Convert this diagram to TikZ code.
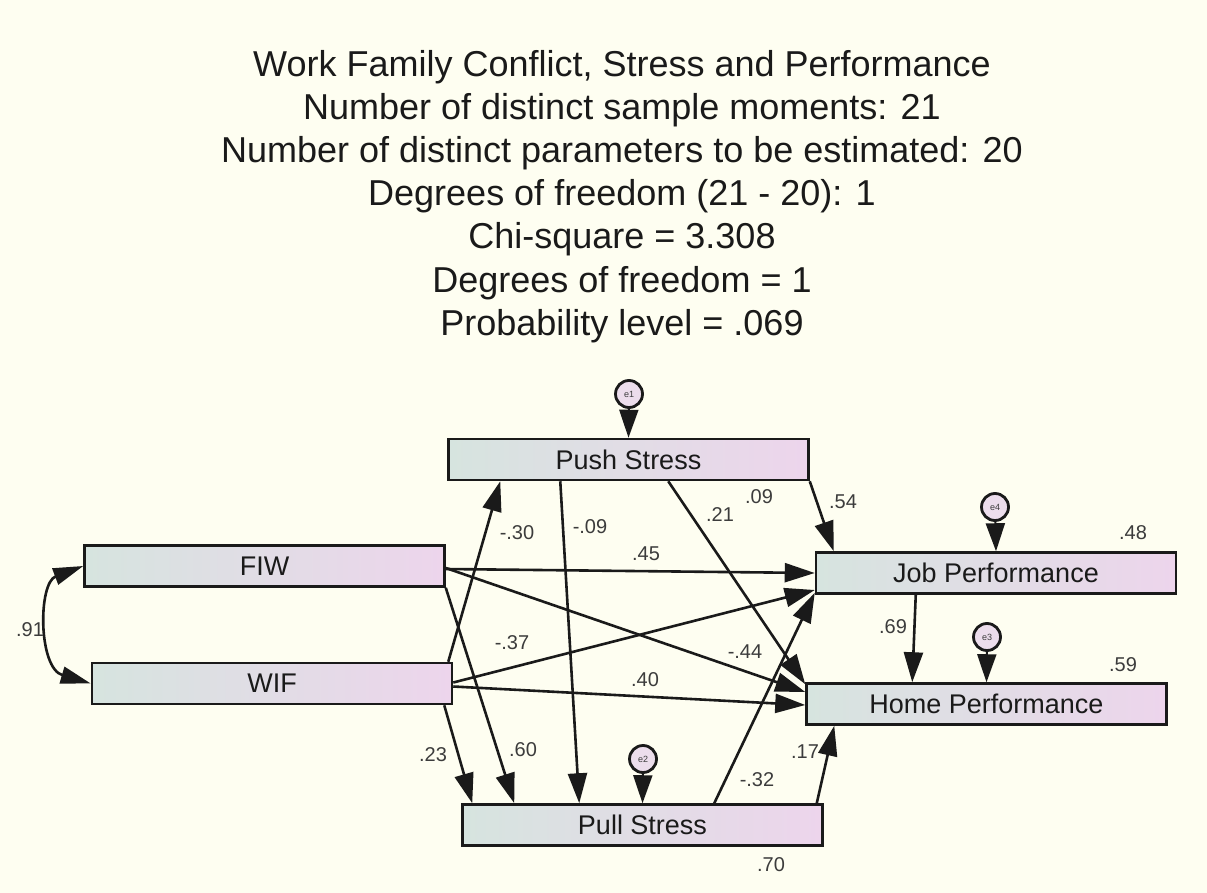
\documentclass[tikz,border=0pt]{standalone}
\usepackage{fontspec}
\setmainfont{Liberation Sans}
\usetikzlibrary{arrows.meta,calc}
\definecolor{bg}{HTML}{FEFEF1}
\definecolor{boxL}{HTML}{D6E4DF}
\definecolor{boxR}{HTML}{EDD5EC}
\definecolor{errfill}{HTML}{ECDDEC}
\definecolor{ink}{HTML}{1A1A1A}
\definecolor{coef}{HTML}{3C3C3C}
\begin{document}
\begin{tikzpicture}[x=1pt,y=-1pt,
  var/.style={draw=ink, line width=2.5pt, left color=boxL, right color=boxR,
    minimum height=41pt, minimum width=360pt, inner sep=0pt,
    font=\fontsize{27}{30}\selectfont, text=ink},
  err/.style={circle, draw=ink, line width=2.8pt, fill=errfill, minimum size=27pt,
    inner sep=0pt, font=\fontsize{9}{10}\selectfont, text=coef},
  regline/.style={draw=ink, line width=2.6pt, -{Triangle[length=30pt,width=19pt]}},
  errline/.style={draw=ink, line width=2pt, -{Triangle[length=28pt,width=19pt]}},
  covline/.style={draw=ink, line width=2.6pt,
    {Triangle[length=30pt,width=17pt]}-{Triangle[length=30pt,width=17pt]}},
  est/.style={font=\fontsize{20}{22}\selectfont, text=coef, inner sep=0pt},
  titleline/.style={font=\fontsize{36}{43}\selectfont, text=ink, anchor=base, inner sep=0pt}]

% canvas
\fill[bg] (0,0) rectangle (1207,893);
\useasboundingbox (0,0) rectangle (1207,893);

% heading with model fit summary
\foreach \txt [count=\i] in {Work Family Conflict{,} Stress and Performance,
  Number of distinct sample moments: 21,
  Number of distinct parameters to be estimated: 20,
  Degrees of freedom (21 - 20): 1,
  Chi-square = 3.308,
  Degrees of freedom = 1,
  Probability level = .069}
  \node[titleline] (t\i) at (622, 34+43*\i) {\txt};

% observed variables
\node[var] (Push) at (628.5,459.5) {Push Stress};
\node[var] (FIW)  at (264.5,566)   {FIW};
\node[var] (WIF)  at (272,683.5)   {WIF};
\node[var] (Job)  at (996,573)     {Job Performance};
\node[var] (Home) at (986.5,704)   {Home Performance};
\node[var] (Pull) at (642.5,825)   {Pull Stress};

% error terms
\node[err] (e1) at (629,394) {e1};
\node[err] (e4) at (995,507) {e4};
\node[err] (e3) at (987,637) {e3};
\node[err] (e2) at (643,759) {e2};
\draw[errline] (e1) -- (Push.north);
\draw[errline] (e4) -- (Job.north);
\draw[errline] (e3) -- (Home.north);
\draw[errline] (e2) -- (Pull.north);

% covariance between the exogenous variables
\draw[covline] (FIW.west) .. controls (38,583) and (38,668) .. (WIF.west);

% regression paths
\draw[regline] ($(FIW.east)+(0,3)$) -- (Job.west);
\draw[regline] ($(FIW.east)+(0,2)$) -- ($(Home.west)+(0,-12)$);
\draw[regline] (FIW.south east) -- ($(Pull.north west)+(53,0)$);
\draw[regline] ($(WIF.north east)+(-5,0)$) -- ($(Push.south west)+(53,0)$);
\draw[regline] ($(WIF.east)+(0,-1)$) -- ($(Job.west)+(0,17)$);
\draw[regline] ($(WIF.east)+(0,3)$) -- ($(Home.west)+(0,1)$);
\draw[regline] ($(WIF.south east)+(-9,0)$) -- ($(Pull.north west)+(11,0)$);
\draw[regline] ($(Push.south west)+(113,0)$) -- ($(Pull.north west)+(118,0)$);
\draw[regline] ($(Push.south west)+(221,0)$) -- ($(Home.north west)+(0,2)$);
\draw[regline] (Push.south east) -- ($(Job.north west)+(19,0)$);
\draw[regline] ($(Pull.north west)+(253,0)$) -- ($(Job.south west)+(0,-2)$);
\draw[regline] ($(Pull.north east)+(-7,0)$) -- ($(Home.south west)+(29,0)$);
\draw[regline] ($(Job.south west)+(101,0)$) -- ($(Home.north west)+(107,0)$);

% estimates
\node[est] (c91) at (30,630)   {.91};
\node[est] (c45) at (646,554)  {.45};
\node[est] (c30) at (517,533)  {-.30};
\node[est] (c09a) at (590,527) {-.09};
\node[est] (c21) at (720,515)  {.21};
\node[est] (r09) at (759,497)  {.09};
\node[est] (c54) at (843,502)  {.54};
\node[est] (c37) at (512,643)  {-.37};
\node[est] (c44) at (745,652)  {-.44};
\node[est] (c40) at (645,680)  {.40};
\node[est] (r48) at (1133,533) {.48};
\node[est] (c69) at (893,627)  {.69};
\node[est] (r59) at (1123,665) {.59};
\node[est] (c23) at (433,755)  {.23};
\node[est] (c60) at (523,750)  {.60};
\node[est] (c32) at (757,780)  {-.32};
\node[est] (c17) at (805,752)  {.17};
\node[est] (r70) at (771,865)  {.70};
\end{tikzpicture}
\end{document}
